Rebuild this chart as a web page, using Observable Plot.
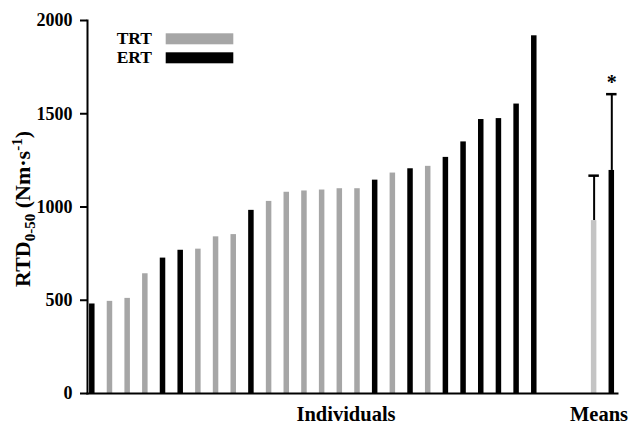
<!DOCTYPE html>
<html>
<head>
<meta charset="utf-8">
<script src="https://cdn.jsdelivr.net/npm/d3@7"></script>
<script src="https://cdn.jsdelivr.net/npm/@observablehq/plot@0.6"></script>
<style>
  body { margin: 0; background: #fff; }
  #wrap { position: relative; width: 629px; height: 425px; }
  #wrap > svg { position: absolute; left: 0; top: 0; }
  #overlay { position: absolute; left: 0; top: 0; pointer-events: none; }
  #overlay text { font-family: "Liberation Serif", "Times New Roman", serif; font-weight: bold; fill: #000; }
</style>
</head>
<body>
<div id="wrap"></div>
<script>
// ---- data ----
const individuals = ["1","2","3","4","5","6","7","8","9","10","11","12","13","14","15","16","17","18","19","20","21","22","23","24","25","26"];
const individualValues = [480, 494, 510, 642, 726, 768, 774, 840, 852, 982, 1030, 1079, 1086, 1091, 1098, 1098, 1144, 1182, 1205, 1218, 1266, 1349, 1469, 1474, 1552, 1918];
const individualGroups = ["ERT","TRT","TRT","TRT","ERT","ERT","TRT","TRT","TRT","ERT","TRT","TRT","TRT","TRT","TRT","TRT","ERT","TRT","ERT","TRT","ERT","ERT","ERT","ERT","ERT","ERT"];
const meanLabels = ["TRT mean", "ERT mean"];
const meanGroups = ["TRT", "ERT"];
const meanValues = [927, 1196];
const sdValues = [241, 409];
const significant = [false, true];
const gapSlots = ["gap1", "gap2"];
const yTicks = [0, 500, 1000, 1500, 2000];
const legendLabels = ["TRT", "ERT"];
const groupLabels = ["Individuals", "Means"];

// ---- tables ----
const indData = individuals.map((id, i) => ({id, value: individualValues[i], group: individualGroups[i]}));
const meanData = meanLabels.map((label, i) => ({label, group: meanGroups[i], mean: meanValues[i], sd: sdValues[i], top: meanValues[i] + sdValues[i], sig: significant[i]}));
const xDomain = [...individuals, ...gapSlots, ...meanLabels];

const meanShift = 6.8;

const chart = Plot.plot({
  width: 629,
  height: 425,
  marginLeft: 87,
  marginRight: 12,
  marginTop: 20,
  marginBottom: 32,
  style: {fontFamily: "'Liberation Serif', 'Times New Roman', serif", fontWeight: "bold", fontSize: "18px", color: "#000", background: "transparent"},
  x: {domain: xDomain, range: [89.05, 607.25], paddingInner: 0.689, paddingOuter: 0, round: false, axis: null},
  y: {domain: [0, 2000], label: null, axis: null},
  marks: [
    Plot.barY(indData.filter(d => d.group === "TRT"), {x: "id", y: "value", fill: "#a6a6a6"}),
    Plot.barY(indData.filter(d => d.group === "ERT"), {x: "id", y: "value", fill: "#000"}),
    Plot.ruleX(meanData, {x: "label", y1: "mean", y2: "top", stroke: "#000", strokeWidth: 2, dx: meanShift}),
    Plot.tickY(meanData, {x: "label", y: "top", stroke: "#000", strokeWidth: 2.5, dx: meanShift, insetLeft: -2.5, insetRight: -2.5}),
    Plot.barY(meanData.filter(d => d.group === "TRT"), {x: "label", y: "mean", fill: "#c4c4c4", dx: meanShift}),
    Plot.barY(meanData.filter(d => d.group === "ERT"), {x: "label", y: "mean", fill: "#000", dx: meanShift}),
    Plot.text(meanData.filter(d => d.sig), {x: "label", y: "top", text: () => "*", dx: meanShift, dy: -5, lineAnchor: "bottom", fontSize: 20, fill: "#000"}),
    Plot.axisY({ticks: yTicks, tickSize: 7, tickPadding: 8, tickFormat: d => String(d), strokeWidth: 2, fontSize: 18, fontWeight: "bold", label: null}),
    Plot.frame({anchor: "left", strokeWidth: 2}),
    Plot.frame({anchor: "bottom", strokeWidth: 2})
  ]
});
const wrap = document.getElementById("wrap");
wrap.appendChild(chart);

// ---- overlay text (legend, group labels, y label) ----
const ov = d3.select(wrap).append("svg").attr("id", "overlay").attr("width", 629).attr("height", 425);
const legendColors = ["#a6a6a6", "#000"];
legendLabels.forEach((lab, i) => {
  const base = 44.3 + i * 19;
  ov.append("text").attr("x", 152).attr("y", base).attr("text-anchor", "end").attr("font-size", 17.5).text(lab);
  ov.append("rect").attr("x", 165.7).attr("y", base - 11).attr("width", 67.6).attr("height", 11).attr("fill", legendColors[i]);
});
ov.append("text").attr("x", 346).attr("y", 421).attr("text-anchor", "middle").attr("font-size", 20.5).text(groupLabels[0]);
ov.append("text").attr("x", 599).attr("y", 420.5).attr("text-anchor", "middle").attr("font-size", 20.5).text(groupLabels[1]);

const yl = ov.append("text").attr("transform", "translate(29.5,209) rotate(-90)").attr("text-anchor", "middle").attr("font-size", 22);
yl.append("tspan").text("RTD");
yl.append("tspan").attr("font-size", 15).attr("dy", 5).text("0-50");
yl.append("tspan").attr("dy", -5).text(" (Nm\u00b7s");
yl.append("tspan").attr("font-size", 15).attr("dy", -8).text("-1");
yl.append("tspan").attr("dy", 8).text(")");
</script>
</body>
</html>
